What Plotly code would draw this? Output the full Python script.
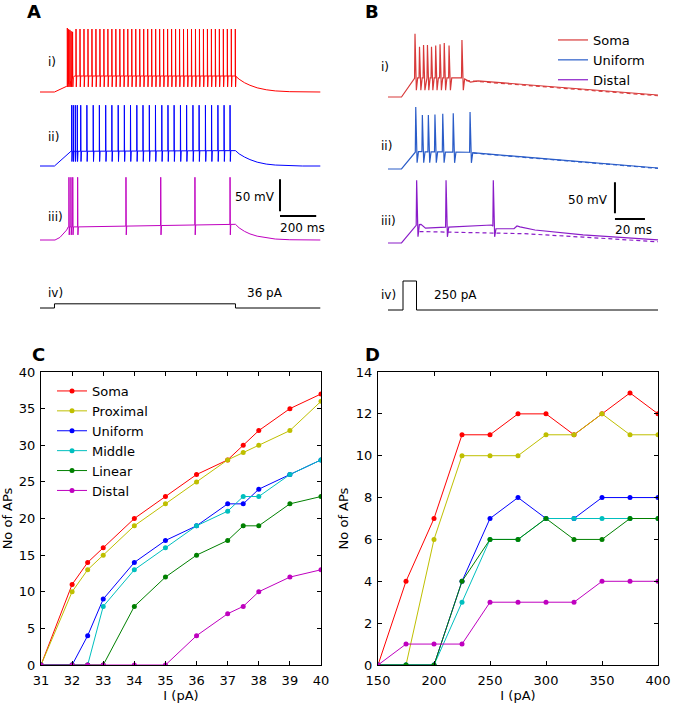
import numpy as np
import plotly.graph_objects as go

W, H = 673, 703

# ---------------- Panel C: number of APs vs current (31-40 pA) ----------------
c_current = [31, 32, 32.5, 33, 34, 35, 36, 37, 37.5, 38, 39, 40]
c_soma = [0, 11, 14, 16, 20, 23, 26, 28, 30, 32, 35, 37]
c_proximal = [0, 10, 13, 15, 19, 22, 25, 28, 29, 30, 32, 36]
c_uniform = [0, 0, 4, 9, 14, 17, 19, 22, 22, 24, 26, 28]
c_middle = [0, 0, 0, 8, 13, 16, 19, 21, 23, 23, 26, 28]
c_linear = [0, 0, 0, 0, 8, 12, 15, 17, 19, 19, 22, 23]
c_distal = [0, 0, 0, 0, 0, 0, 4, 7, 8, 10, 12, 13]

# ---------------- Panel D: number of APs vs current (150-400 pA) ----------------
d_current = [150, 175, 200, 225, 250, 275, 300, 325, 350, 375, 400]
d_soma = [0, 4, 7, 11, 11, 12, 12, 11, 12, 13, 12]
d_proximal = [0, 0, 6, 10, 10, 10, 11, 11, 12, 11, 11]
d_uniform = [0, 0, 0, 4, 7, 8, 7, 7, 8, 8, 8]
d_middle = [0, 0, 0, 3, 6, 6, 7, 7, 7, 7, 7]
d_linear = [0, 0, 0, 4, 6, 6, 7, 6, 6, 7, 7]
d_distal = [0, 1, 1, 1, 3, 3, 3, 3, 4, 4, 4]

series_names = ["Soma", "Proximal", "Uniform", "Middle", "Linear", "Distal"]
series_colors = ["#ff0000", "#bfbf00", "#0000ff", "#00bfbf", "#008000", "#bf00bf"]

# ---------------- Panel A: voltage traces, 36 pA, 1000 ms step ----------------
a_stim_t = [0, 80, 80, 1080, 1080, 1550]
a_stim_i = [0, 0, 36, 36, 0, 0]

a_soma_env_t = [0, 80, 148, 190, 1080, 1100, 1130, 1160, 1200, 1250, 1300, 1380, 1450, 1550]
a_soma_env_v = [-65, -65, -56, -40, -40, -45, -50.5, -54.5, -58.5, -61.5, -63.3, -64.5, -65, -65]
a_soma_spikes = [151, 158, 165, 172, 180,
                 199, 221, 243, 265, 287, 309, 331, 353, 375, 397, 419, 441, 463, 485,
                 507, 529, 551, 573, 595, 617, 639, 661, 683, 705, 727, 749, 771, 793,
                 815, 837, 859, 881, 903, 925, 947, 969, 991, 1013, 1035, 1057, 1079]
a_soma_peaks = [35, 33, 32, 30, 29] + [33.4] * 41
a_soma_trough = -57

a_unif_env_t = [0, 80, 171, 1080, 1100, 1130, 1160, 1200, 1250, 1300, 1380, 1450, 1550]
a_unif_env_v = [-65, -65, -42, -41, -46, -51, -55, -59, -62, -63.5, -64.6, -65, -65]
a_unif_spikes = [175, 184, 195, 206,
                 225, 259, 294, 328, 363, 397, 432, 466, 500, 535, 569, 604, 638,
                 673, 707, 741, 776, 810, 845, 879, 914, 948, 983, 1017, 1050]
a_unif_peaks = [30] * 29
a_unif_trough = -58

a_dist_env_t = [0, 83, 110, 147, 156, 215, 1080, 1100, 1130, 1160, 1200, 1250, 1300, 1380, 1450, 1550]
a_dist_env_v = [-65, -65, -61, -49.5, -44.5, -44.5, -40.5, -46, -51.5, -55.5, -59, -61.8, -63.5, -64.6, -65, -65]
a_dist_spikes = [160, 171, 181, 208, 475, 667, 856, 1050]
a_dist_peaks = [33] * 8
a_dist_trough = -57

# ---------------- Panel B: voltage traces, 250 pA brief pulse ----------------
b_stim_t = [0, 10, 10, 19, 19, 180]
b_stim_i = [0, 0, 250, 250, 0, 0]

b_soma_env_t = [0, 9, 18, 49.5, 55, 60, 120, 180]
b_soma_env_v = [-65, -65, -34, -34, -41, -39, -51, -61.8]
b_soma_spikes = [18, 21, 23.7, 26.3, 29, 31.8, 34.7, 37.5, 40.7, 49.3]
b_soma_peaks = [37, 16, 19, 19, 16, 18, 20, 22, 18, 27]
b_soma_trough = -54
b_soma_dash_t = [52, 60, 120, 180]
b_soma_dash_v = [-38.5, -40, -52, -63]

b_unif_env_t = [0, 9, 18.5, 54, 58, 120, 180]
b_unif_env_v = [-65, -65, -37, -38, -39, -51.5, -63.4]
b_unif_spikes = [18.5, 22.9, 26.9, 31.3, 36.5, 43.5, 54.7]
b_unif_peaks = [35, 22, 22, 23, 24, 25, 27]
b_unif_trough = -55
b_unif_dash_t = [57, 120, 180]
b_unif_dash_v = [-39.5, -52, -64]

b_dist_env_t = [0, 9, 19, 22, 25, 69, 72, 84, 86, 88, 98, 130, 180]
b_dist_env_v = [-65, -65, -36, -35, -41, -36, -42, -42, -37.5, -39, -44, -52, -60]
b_dist_spikes = [19.1, 38.7, 70.2]
b_dist_peaks = [36, 36, 36]
b_dist_trough = -55
b_dist_dash_t = [21, 60, 91, 130, 180]
b_dist_dash_v = [-46.5, -48, -50, -55.5, -63]

b_names = ["Soma", "Uniform", "Distal"]
b_colors = ["#d83a3a", "#2a5cc8", "#8a1cc8"]


def build_trace(env_t, env_v, spikes, peaks, trough, rise, fall, recover):
    """Join the subthreshold envelope with spikes at the read spike times."""
    pts = []
    for t, v in zip(env_t, env_v):
        if not any(ts - rise <= t <= ts + recover for ts in spikes):
            pts.append((t, v))
    for ts, pk in zip(spikes, peaks):
        pts.append((ts - rise, float(np.interp(ts - rise, env_t, env_v))))
        pts.append((ts, pk))
        pts.append((ts + fall, trough))
        pts.append((ts + recover, float(np.interp(ts + recover, env_t, env_v))))
    pts.sort(key=lambda p: p[0])
    return [p[0] for p in pts], [p[1] for p in pts]


fig = go.Figure()


def px_dom_x(p0, p1):
    return [p0 / W, p1 / W]


def px_dom_y(top, bottom):
    return [1 - bottom / H, 1 - top / H]


def row_domain(base_px, scale, lo, hi, base):
    top = base_px - (hi - base) * scale
    bottom = base_px + (base - lo) * scale
    return px_dom_y(top, bottom)


# ---- Panel A traces
a_cols = ["#ff0000", "#0000ff", "#bf00bf"]
a_sets = [
    (a_soma_env_t, a_soma_env_v, a_soma_spikes, a_soma_peaks, a_soma_trough, "y"),
    (a_unif_env_t, a_unif_env_v, a_unif_spikes, a_unif_peaks, a_unif_trough, "y2"),
    (a_dist_env_t, a_dist_env_v, a_dist_spikes, a_dist_peaks, a_dist_trough, "y3"),
]
for (et, ev, sp, pk, tr, ya), col in zip(a_sets, a_cols):
    tt, vv = build_trace(et, ev, sp, pk, tr, 0.6, 1.5, 4.0)
    fig.add_trace(go.Scatter(x=tt, y=vv, mode="lines", line=dict(color=col, width=1),
                             xaxis="x", yaxis=ya, showlegend=False, hoverinfo="skip"))
fig.add_trace(go.Scatter(x=a_stim_t, y=a_stim_i, mode="lines", line=dict(color="black", width=1),
                         xaxis="x", yaxis="y4", showlegend=False, hoverinfo="skip"))

# ---- Panel B traces
b_sets = [
    (b_soma_env_t, b_soma_env_v, b_soma_spikes, b_soma_peaks, b_soma_trough, b_soma_dash_t, b_soma_dash_v, "y5"),
    (b_unif_env_t, b_unif_env_v, b_unif_spikes, b_unif_peaks, b_unif_trough, b_unif_dash_t, b_unif_dash_v, "y6"),
    (b_dist_env_t, b_dist_env_v, b_dist_spikes, b_dist_peaks, b_dist_trough, b_dist_dash_t, b_dist_dash_v, "y7"),
]
for (et, ev, sp, pk, tr, dt, dv, ya), col, nm in zip(b_sets, b_colors, b_names):
    tt, vv = build_trace(et, ev, sp, pk, tr, 0.3, 0.9, 1.8)
    fig.add_trace(go.Scatter(x=tt, y=vv, mode="lines", line=dict(color=col, width=1.2),
                             xaxis="x2", yaxis=ya, name=nm, legend="legend2", showlegend=True,
                             hoverinfo="skip"))
    fig.add_trace(go.Scatter(x=dt, y=dv, mode="lines", line=dict(color=col, width=1.2, dash="4px,3px"),
                             xaxis="x2", yaxis=ya, showlegend=False, hoverinfo="skip"))
fig.add_trace(go.Scatter(x=b_stim_t, y=b_stim_i, mode="lines", line=dict(color="black", width=1),
                         xaxis="x2", yaxis="y8", showlegend=False, hoverinfo="skip"))

# ---- Panel C
for nm, col, ys in zip(series_names, series_colors,
                       [c_soma, c_proximal, c_uniform, c_middle, c_linear, c_distal]):
    fig.add_trace(go.Scatter(x=c_current, y=ys, mode="lines+markers", name=nm,
                             line=dict(color=col, width=1), marker=dict(color=col, size=5),
                             xaxis="x3", yaxis="y9", legend="legend"))
# ---- Panel D
for nm, col, ys in zip(series_names, series_colors,
                       [d_soma, d_proximal, d_uniform, d_middle, d_linear, d_distal]):
    fig.add_trace(go.Scatter(x=d_current, y=ys, mode="lines+markers", name=nm,
                             line=dict(color=col, width=1), marker=dict(color=col, size=5),
                             xaxis="x4", yaxis="y10", showlegend=False))

hidden = dict(visible=False, showgrid=False, zeroline=False, fixedrange=True, automargin=False)
tickfont = dict(family="DejaVu Sans", size=13, color="black")
boxed = dict(showline=True, linecolor="black", linewidth=1, mirror="ticks", ticks="inside",
             ticklen=4, tickcolor="black", showgrid=False, zeroline=False, tickfont=tickfont,
             automargin=False)

# A time axis: x pixel = 40 + 0.181 * t
a_x0, a_s = 40, 0.181
b_x0, b_s = 388, 1.5
mv_a, mv_b, pa_s = 0.64, 0.62, 0.116

layout = dict(
    width=W, height=H, margin=dict(l=0, r=0, t=0, b=0, autoexpand=False),
    paper_bgcolor="white", plot_bgcolor="rgba(0,0,0,0)",
    font=dict(family="DejaVu Sans", size=13, color="black"),
    xaxis=dict(hidden, domain=px_dom_x(a_x0, a_x0 + 1550 * a_s), range=[0, 1550], anchor="y"),
    yaxis=dict(hidden, domain=row_domain(92, mv_a, -80, 45, -65), range=[-80, 45], anchor="x"),
    yaxis2=dict(hidden, domain=row_domain(166, mv_a, -80, 45, -65), range=[-80, 45], anchor="x"),
    yaxis3=dict(hidden, domain=row_domain(240, mv_a, -80, 45, -65), range=[-80, 45], anchor="x"),
    yaxis4=dict(hidden, domain=row_domain(308, pa_s, -20, 300, 0), range=[-20, 300], anchor="x"),
    xaxis2=dict(hidden, domain=px_dom_x(b_x0, b_x0 + 180 * b_s), range=[0, 180], anchor="y5"),
    yaxis5=dict(hidden, domain=row_domain(97, mv_b, -80, 45, -65), range=[-80, 45], anchor="x2"),
    yaxis6=dict(hidden, domain=row_domain(169, mv_b, -80, 45, -65), range=[-80, 45], anchor="x2"),
    yaxis7=dict(hidden, domain=row_domain(243, mv_b, -80, 45, -65), range=[-80, 45], anchor="x2"),
    yaxis8=dict(hidden, domain=row_domain(310, pa_s, -20, 300, 0), range=[-20, 300], anchor="x2"),
    xaxis3=dict(boxed, domain=px_dom_x(41, 321), range=[31, 40], dtick=1, anchor="y9",
                ticklabelstandoff=3,
                title=dict(text="I (pA)", standoff=2, font=dict(size=13))),
    yaxis9=dict(boxed, domain=px_dom_y(372, 665), range=[0, 40], dtick=5, anchor="x3",
                ticklabelstandoff=2,
                title=dict(text="No of APs", standoff=4, font=dict(size=13))),
    xaxis4=dict(boxed, domain=px_dom_x(378, 658), range=[150, 400], dtick=50, anchor="y10",
                ticklabelstandoff=3,
                title=dict(text="I (pA)", standoff=2, font=dict(size=13))),
    yaxis10=dict(boxed, domain=px_dom_y(372, 665), range=[0, 14], dtick=2, anchor="x4",
                 ticklabelstandoff=2,
                 title=dict(text="No of APs", standoff=4, font=dict(size=13))),
    legend=dict(x=52 / W, y=1 - 376 / H, xanchor="left", yanchor="top", bgcolor="rgba(0,0,0,0)",
                font=dict(size=13), tracegroupgap=0),
    legend2=dict(x=553 / W, y=1 - 25 / H, xanchor="left", yanchor="top", bgcolor="rgba(0,0,0,0)",
                 font=dict(size=13)),
    showlegend=True,
)
fig.update_layout(**layout)

# scale bars
fig.add_shape(type="line", xref="x", yref="y3", x0=1326, x1=1326, y0=-20, y1=30,
              line=dict(color="black", width=2))
fig.add_shape(type="line", xref="x", yref="y3", x0=1326, x1=1526, y0=-27.5, y1=-27.5,
              line=dict(color="black", width=2))
fig.add_shape(type="line", xref="x2", yref="y7", x0=151.3, x1=151.3, y0=-17, y1=33,
              line=dict(color="black", width=2))
fig.add_shape(type="line", xref="x2", yref="y7", x0=151.3, x1=171.3, y0=-26.3, y1=-26.3,
              line=dict(color="black", width=2))


def ann(text, x, y, anchor="left", size=12, bold=False):
    fig.add_annotation(text=f"<b>{text}</b>" if bold else text, x=x / W, y=1 - y / H,
                       xref="paper", yref="paper", xanchor=anchor, yanchor="middle",
                       showarrow=False, font=dict(size=size, family="DejaVu Sans", color="black"))


for t, x, y in [("A", 34, 12), ("B", 372, 12), ("C", 38, 354), ("D", 372, 354)]:
    ann(t, x, y, anchor="center", size=18, bold=True)
for t, y in [("i)", 62), ("ii)", 137), ("iii)", 217), ("iv)", 293)]:
    ann(t, 46, y)
for t, y in [("i)", 67), ("ii)", 146), ("iii)", 221), ("iv)", 295)]:
    ann(t, 379, y)
ann("36 pA", 245, 293)
ann("250 pA", 432, 295)
ann("50 mV", 277, 197, anchor="right")
ann("200 ms", 302, 228, anchor="center")
ann("50 mV", 610, 200, anchor="right")
ann("20 ms", 633, 230, anchor="center")

fig.write_html("out.html", config={"displayModeBar": False},
               post_script="document.body.style.margin='0px';document.body.style.overflow='hidden';")
